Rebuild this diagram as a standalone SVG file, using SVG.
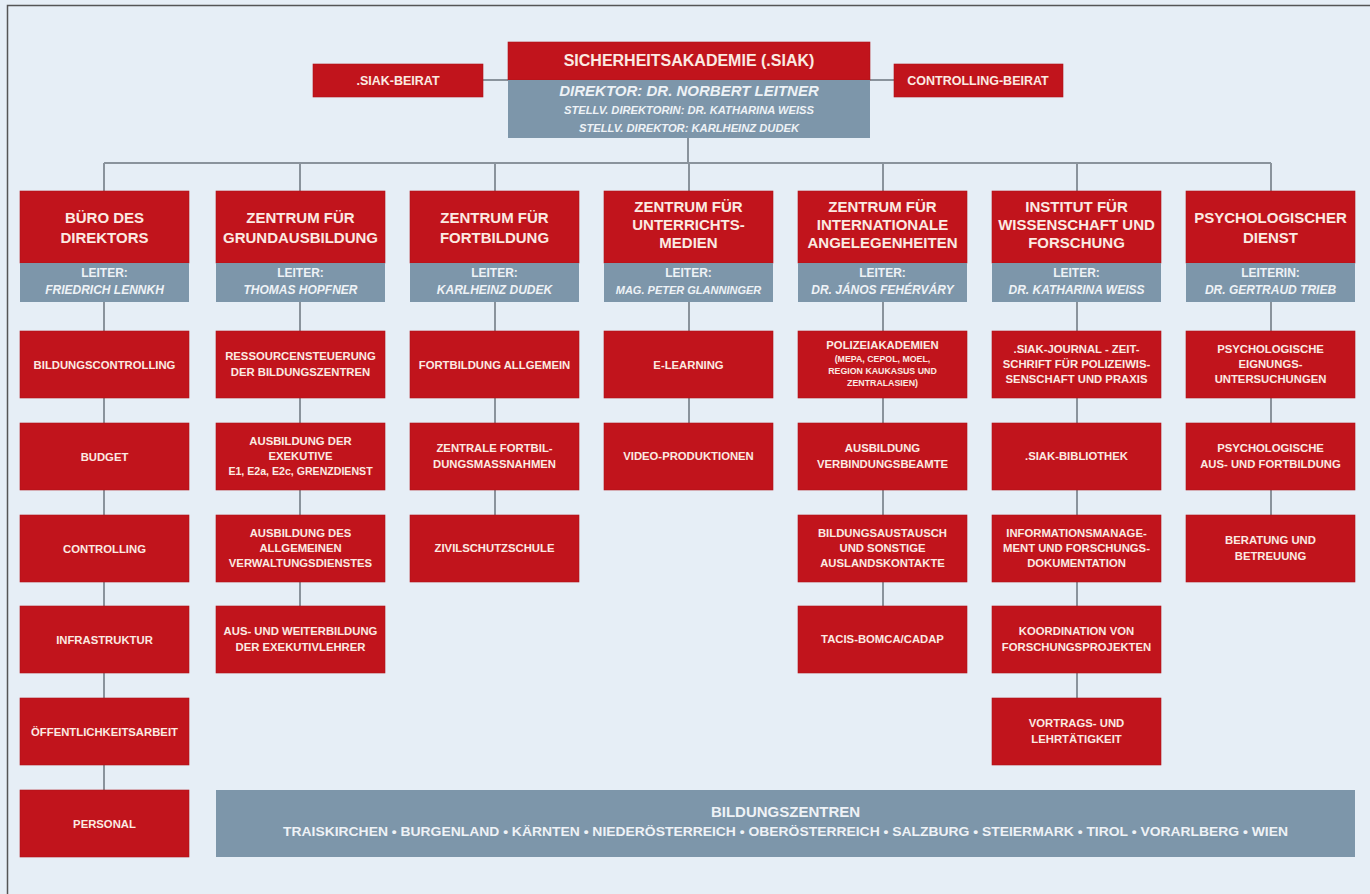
<svg xmlns="http://www.w3.org/2000/svg" width="1370" height="894" viewBox="0 0 1370 894">
<style>
.bg{fill:#e6eef6}
.red{fill:#c1141c;stroke:#b0121a;stroke-width:0.6}
.blue{fill:#7d96aa}
.ln{stroke:#8a939c;stroke-width:2;fill:none}
text{font-family:"Liberation Sans",Arial,sans-serif;font-weight:bold;text-anchor:middle}
.h{font-size:15px;fill:#fbeae2}
.top{font-size:16px;fill:#fbeae2}
.side{font-size:12.5px;fill:#fbeae2}
.c{font-size:11.3px;fill:#fbeae2}
.cs{font-size:8.8px;fill:#fbeae2}
.l{font-size:12px;fill:#eef2f6}
.n{font-size:12px;fill:#eef2f6;font-style:italic}
.dir{font-size:15px;fill:#eef2f6;font-style:italic}
.st{font-size:10px;fill:#eef2f6;font-style:italic}
.bz{font-size:15px;fill:#eef2f6}
.bzl{font-size:12.5px;fill:#eef2f6}
</style>
<rect class="bg" x="0" y="0" width="1370" height="894"/>
<path d="M7.5 894 V5.5 H1370" stroke="#555" stroke-width="1.5" fill="none"/>

<g id="connectors">
<path class="ln" d="M483 80 H508 M870 80 H894"/>
<path class="ln" d="M688 138 V163 M104 163 H1271 M104 163 V191 M300 163 V191 M495 163 V191 M689 163 V191 M883 163 V191 M1077 163 V191 M1271 163 V191"/>
<path class="ln" d="M104 302 V790 M300 302 V606 M495 302 V515 M689 302 V423 M883 302 V606 M1077 302 V698 M1271 302 V515"/>
</g>

<g id="siak">
<rect class="red" x="508" y="42" width="362" height="38"/>
<rect class="blue" x="508" y="80" width="362" height="58"/>
<text class="top" x="689" y="66">SICHERHEITSAKADEMIE (.SIAK)</text>
<text class="dir" x="689" y="96">DIREKTOR: DR. NORBERT LEITNER</text>
<text class="st" x="689" y="114" textLength="250" lengthAdjust="spacingAndGlyphs">STELLV. DIREKTORIN: DR. KATHARINA WEISS</text>
<text class="st" x="689" y="131.5" textLength="220" lengthAdjust="spacingAndGlyphs">STELLV. DIREKTOR: KARLHEINZ DUDEK</text>
</g>
<g id="siak-beirat">
<rect class="red" x="313" y="64" width="170" height="33"/>
<text class="side" x="398" y="85">.SIAK-BEIRAT</text>
</g>
<g id="controlling-beirat">
<rect class="red" x="894" y="64" width="169" height="33"/>
<text class="side" x="978" y="85">CONTROLLING-BEIRAT</text>
</g>

<!-- headers -->
<g id="buero">
<rect class="red" x="20" y="191" width="169" height="72"/>
<rect class="blue" x="20" y="263" width="169" height="39"/>
<text class="h" x="104.5" y="222.5">BÜRO DES</text>
<text class="h" x="104.5" y="243">DIREKTORS</text>
<text class="l" x="104.5" y="276.5">LEITER:</text>
<text class="n" x="104.5" y="294">FRIEDRICH LENNKH</text>
</g>
<g id="grundausbildung">
<rect class="red" x="216" y="191" width="169" height="72"/>
<rect class="blue" x="216" y="263" width="169" height="39"/>
<text class="h" x="300.5" y="222.5">ZENTRUM FÜR</text>
<text class="h" x="300.5" y="243">GRUNDAUSBILDUNG</text>
<text class="l" x="300.5" y="276.5">LEITER:</text>
<text class="n" x="300.5" y="294">THOMAS HOPFNER</text>
</g>
<g id="fortbildung">
<rect class="red" x="410" y="191" width="169" height="72"/>
<rect class="blue" x="410" y="263" width="169" height="39"/>
<text class="h" x="494.5" y="222.5">ZENTRUM FÜR</text>
<text class="h" x="494.5" y="243">FORTBILDUNG</text>
<text class="l" x="494.5" y="276.5">LEITER:</text>
<text class="n" x="494.5" y="294">KARLHEINZ DUDEK</text>
</g>
<g id="unterrichtsmedien">
<rect class="red" x="604" y="191" width="169" height="72"/>
<rect class="blue" x="604" y="263" width="169" height="39"/>
<text class="h" x="688.5" y="212">ZENTRUM FÜR</text>
<text class="h" x="688.5" y="230">UNTERRICHTS-</text>
<text class="h" x="688.5" y="248">MEDIEN</text>
<text class="l" x="688.5" y="276.5">LEITER:</text>
<text class="n" x="688.5" y="294" style="font-size:11px">MAG. PETER GLANNINGER</text>
</g>
<g id="international">
<rect class="red" x="798" y="191" width="169" height="72"/>
<rect class="blue" x="798" y="263" width="169" height="39"/>
<text class="h" x="882.5" y="212">ZENTRUM FÜR</text>
<text class="h" x="882.5" y="230">INTERNATIONALE</text>
<text class="h" x="882.5" y="248">ANGELEGENHEITEN</text>
<text class="l" x="882.5" y="276.5">LEITER:</text>
<text class="n" x="882.5" y="294">DR. JÁNOS FEHÉRVÁRY</text>
</g>
<g id="wissenschaft">
<rect class="red" x="992" y="191" width="169" height="72"/>
<rect class="blue" x="992" y="263" width="169" height="39"/>
<text class="h" x="1076.5" y="212">INSTITUT FÜR</text>
<text class="h" x="1076.5" y="230">WISSENSCHAFT UND</text>
<text class="h" x="1076.5" y="248">FORSCHUNG</text>
<text class="l" x="1076.5" y="276.5">LEITER:</text>
<text class="n" x="1076.5" y="294">DR. KATHARINA WEISS</text>
</g>
<g id="psychologie">
<rect class="red" x="1186" y="191" width="169" height="72"/>
<rect class="blue" x="1186" y="263" width="169" height="39"/>
<text class="h" x="1270.5" y="222.5">PSYCHOLOGISCHER</text>
<text class="h" x="1270.5" y="243">DIENST</text>
<text class="l" x="1270.5" y="276.5">LEITERIN:</text>
<text class="n" x="1270.5" y="294">DR. GERTRAUD TRIEB</text>
</g>

<!-- column 1 -->
<g id="c1-1"><rect class="red" x="20" y="331" width="169" height="67"/><text class="c" x="104.5" y="368.5">BILDUNGSCONTROLLING</text></g>
<g id="c1-2"><rect class="red" x="20" y="423" width="169" height="67"/><text class="c" x="104.5" y="460.5">BUDGET</text></g>
<g id="c1-3"><rect class="red" x="20" y="515" width="169" height="67"/><text class="c" x="104.5" y="552.5">CONTROLLING</text></g>
<g id="c1-4"><rect class="red" x="20" y="606" width="169" height="67"/><text class="c" x="104.5" y="643.5">INFRASTRUKTUR</text></g>
<g id="c1-5"><rect class="red" x="20" y="698" width="169" height="67"/><text class="c" x="104.5" y="735.5">ÖFFENTLICHKEITSARBEIT</text></g>
<g id="c1-6"><rect class="red" x="20" y="790" width="169" height="67"/><text class="c" x="104.5" y="827.5">PERSONAL</text></g>

<!-- column 2 -->
<g id="c2-1"><rect class="red" x="216" y="331" width="169" height="67"/><text class="c" x="300.5" y="360">RESSOURCENSTEUERUNG</text><text class="c" x="300.5" y="376">DER BILDUNGSZENTREN</text></g>
<g id="c2-2"><rect class="red" x="216" y="423" width="169" height="67"/><text class="c" x="300.5" y="445">AUSBILDUNG DER</text><text class="c" x="300.5" y="460">EXEKUTIVE</text><text class="c" x="300.5" y="475" style="font-size:10.6px">E1, E2a, E2c, GRENZDIENST</text></g>
<g id="c2-3"><rect class="red" x="216" y="515" width="169" height="67"/><text class="c" x="300.5" y="537">AUSBILDUNG DES</text><text class="c" x="300.5" y="552">ALLGEMEINEN</text><text class="c" x="300.5" y="567">VERWALTUNGSDIENSTES</text></g>
<g id="c2-4"><rect class="red" x="216" y="606" width="169" height="67"/><text class="c" x="300.5" y="635">AUS- UND WEITERBILDUNG</text><text class="c" x="300.5" y="651">DER EXEKUTIVLEHRER</text></g>

<!-- column 3 -->
<g id="c3-1"><rect class="red" x="410" y="331" width="169" height="67"/><text class="c" x="494.5" y="368.5">FORTBILDUNG ALLGEMEIN</text></g>
<g id="c3-2"><rect class="red" x="410" y="423" width="169" height="67"/><text class="c" x="494.5" y="452">ZENTRALE FORTBIL-</text><text class="c" x="494.5" y="468">DUNGSMASSNAHMEN</text></g>
<g id="c3-3"><rect class="red" x="410" y="515" width="169" height="67"/><text class="c" x="494.5" y="552">ZIVILSCHUTZSCHULE</text></g>

<!-- column 4 -->
<g id="c4-1"><rect class="red" x="604" y="331" width="169" height="67"/><text class="c" x="688.5" y="368.5">E-LEARNING</text></g>
<g id="c4-2"><rect class="red" x="604" y="423" width="169" height="67"/><text class="c" x="688.5" y="460">VIDEO-PRODUKTIONEN</text></g>

<!-- column 5 -->
<g id="c5-1"><rect class="red" x="798" y="331" width="169" height="67"/><text class="c" x="882.5" y="349">POLIZEIAKADEMIEN</text><text class="cs" x="882.5" y="362">(MEPA, CEPOL, MOEL,</text><text class="cs" x="882.5" y="374">REGION KAUKASUS UND</text><text class="cs" x="882.5" y="386">ZENTRALASIEN)</text></g>
<g id="c5-2"><rect class="red" x="798" y="423" width="169" height="67"/><text class="c" x="882.5" y="452">AUSBILDUNG</text><text class="c" x="882.5" y="468">VERBINDUNGSBEAMTE</text></g>
<g id="c5-3"><rect class="red" x="798" y="515" width="169" height="67"/><text class="c" x="882.5" y="537">BILDUNGSAUSTAUSCH</text><text class="c" x="882.5" y="552">UND SONSTIGE</text><text class="c" x="882.5" y="567">AUSLANDSKONTAKTE</text></g>
<g id="c5-4"><rect class="red" x="798" y="606" width="169" height="67"/><text class="c" x="882.5" y="643">TACIS-BOMCA/CADAP</text></g>

<!-- column 6 -->
<g id="c6-1"><rect class="red" x="992" y="331" width="169" height="67"/><text class="c" x="1076.5" y="353">.SIAK-JOURNAL - ZEIT-</text><text class="c" x="1076.5" y="368">SCHRIFT FÜR POLIZEIWIS-</text><text class="c" x="1076.5" y="383">SENSCHAFT UND PRAXIS</text></g>
<g id="c6-2"><rect class="red" x="992" y="423" width="169" height="67"/><text class="c" x="1076.5" y="460">.SIAK-BIBLIOTHEK</text></g>
<g id="c6-3"><rect class="red" x="992" y="515" width="169" height="67"/><text class="c" x="1076.5" y="537">INFORMATIONSMANAGE-</text><text class="c" x="1076.5" y="552">MENT UND FORSCHUNGS-</text><text class="c" x="1076.5" y="567">DOKUMENTATION</text></g>
<g id="c6-4"><rect class="red" x="992" y="606" width="169" height="67"/><text class="c" x="1076.5" y="635">KOORDINATION VON</text><text class="c" x="1076.5" y="651">FORSCHUNGSPROJEKTEN</text></g>
<g id="c6-5"><rect class="red" x="992" y="698" width="169" height="67"/><text class="c" x="1076.5" y="727">VORTRAGS- UND</text><text class="c" x="1076.5" y="743">LEHRTÄTIGKEIT</text></g>

<!-- column 7 -->
<g id="c7-1"><rect class="red" x="1186" y="331" width="169" height="67"/><text class="c" x="1270.5" y="353">PSYCHOLOGISCHE</text><text class="c" x="1270.5" y="368">EIGNUNGS-</text><text class="c" x="1270.5" y="383">UNTERSUCHUNGEN</text></g>
<g id="c7-2"><rect class="red" x="1186" y="423" width="169" height="67"/><text class="c" x="1270.5" y="452">PSYCHOLOGISCHE</text><text class="c" x="1270.5" y="468">AUS- UND FORTBILDUNG</text></g>
<g id="c7-3"><rect class="red" x="1186" y="515" width="169" height="67"/><text class="c" x="1270.5" y="544">BERATUNG UND</text><text class="c" x="1270.5" y="560">BETREUUNG</text></g>

<g id="bildungszentren">
<rect class="blue" x="216" y="790" width="1139" height="67"/>
<text class="bz" x="785.5" y="817">BILDUNGSZENTREN</text>
<text class="bzl" x="785.5" y="836" textLength="1005" lengthAdjust="spacingAndGlyphs">TRAISKIRCHEN • BURGENLAND • KÄRNTEN • NIEDERÖSTERREICH • OBERÖSTERREICH • SALZBURG • STEIERMARK • TIROL • VORARLBERG • WIEN</text>
</g>
</svg>
